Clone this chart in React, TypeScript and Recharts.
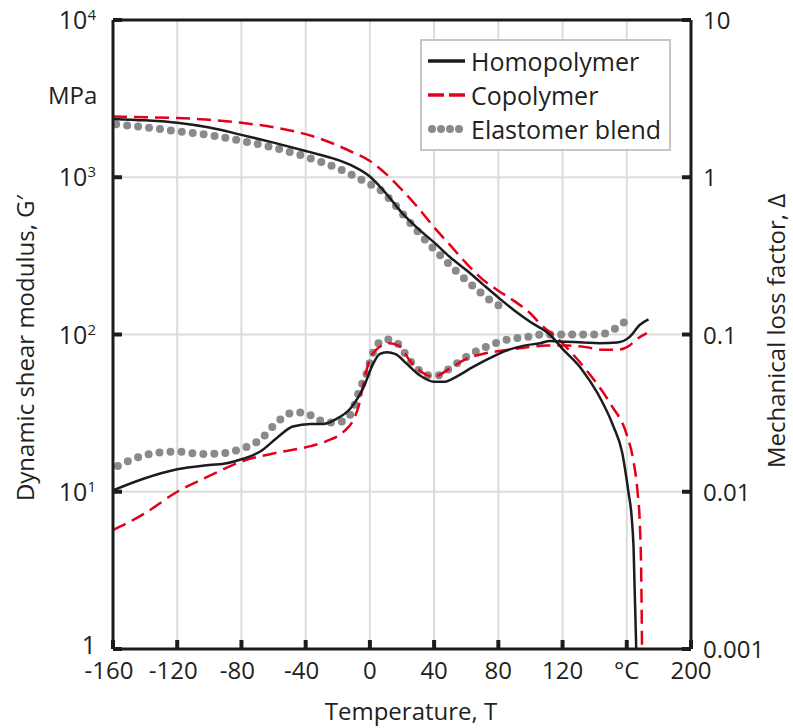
import React from "react"
import { LineChart, Line, XAxis, YAxis, CartesianGrid, ReferenceLine, Legend } from "recharts"

const FONT = "'Open Sans', 'Noto Sans', sans-serif"
const INK = "#1c1c1c"
const TEXT = "#231f20"
const RED = "#e2001a"
const GREY = "#8a8a8a"

const tempTicks = [-160, -120, -80, -40, 0, 40, 80, 120, 160, 200]
const modulusTicks = [1, 10, 100, 1000, 10000]
const lossTicks = [0.001, 0.01, 0.1, 1, 10]

// dynamic shear modulus G' [T °C, MPa]
const homoModulus = [
  [-160, 2350], [-140, 2300], [-120, 2220], [-100, 2070], [-80, 1860], [-60, 1660],
  [-40, 1470], [-30, 1380], [-20, 1290], [-10, 1170], [0, 1010], [5, 900], [10, 790],
  [20, 594], [30, 471], [40, 385], [50, 310], [60, 257], [70, 210], [80, 172],
  [90, 142], [100, 120], [112, 100], [120, 81], [132, 60], [142, 42], [151.7, 26],
  [157, 18], [161, 10], [163, 7], [164.2, 4.5], [165.9, 1],
]
const copoModulus = [
  [-160, 2430], [-140, 2410], [-120, 2380], [-100, 2320], [-80, 2220], [-60, 2080],
  [-40, 1880], [-20, 1590], [-10, 1430], [0, 1270], [10, 1050], [20, 830], [30, 640],
  [40, 480], [50, 370], [60, 284], [70, 225], [80, 190], [90, 163], [100, 136],
  [106, 117], [117, 94], [135, 59], [150, 36], [160, 23], [164, 16], [166.7, 10],
  [168.2, 6], [169, 3], [169.5, 1],
]
const blendModulus = [
  [-158, 2170], [-142, 2090], [-120, 1960], [-98, 1840], [-77, 1680], [-62, 1560],
  [-41, 1360], [-20, 1140], [-1, 915], [6, 835], [16, 660], [25, 515], [35, 394],
  [45, 310], [55, 246], [65, 200], [76, 162], [83, 148],
]

// mechanical loss factor [T °C, -]
const homoLoss = [
  [-160, 0.0102], [-141, 0.0121], [-120, 0.0139], [-100, 0.0148], [-89, 0.0152],
  [-79, 0.0162], [-68, 0.0181], [-58, 0.022], [-48, 0.026], [-37, 0.027], [-29, 0.027],
  [-21, 0.029], [-12, 0.034], [-4, 0.046], [2, 0.065], [6, 0.075], [10.5, 0.077],
  [16, 0.075], [23, 0.065], [31, 0.055], [40, 0.05], [46, 0.05], [54, 0.054],
  [64, 0.062], [75, 0.071], [85, 0.079], [96, 0.085], [106, 0.088], [112, 0.091],
  [122, 0.09], [133, 0.089], [143, 0.088], [154, 0.089], [162, 0.097], [168, 0.115],
  [173.5, 0.125],
]
const copoLoss = [
  [-160, 0.0057], [-141, 0.0072], [-120, 0.01], [-100, 0.0126], [-79, 0.0157],
  [-58, 0.0177], [-37, 0.0195], [-27, 0.021], [-16.5, 0.024], [-10, 0.029], [-7, 0.035],
  [-4, 0.049], [-1, 0.065], [4, 0.08], [12, 0.088], [18, 0.085], [25, 0.068],
  [30, 0.06], [36, 0.055], [40, 0.054], [49, 0.06], [60, 0.07], [72, 0.076],
  [83, 0.079], [98, 0.083], [110, 0.085], [123, 0.085], [135, 0.083], [145, 0.08],
  [154, 0.08], [161, 0.084], [166, 0.093], [172.5, 0.102],
]
const blendLoss = [
  [-157, 0.0146], [-144, 0.0166], [-133, 0.0177], [-120, 0.018], [-106, 0.0174],
  [-93, 0.0175], [-86, 0.018], [-80, 0.0188], [-73, 0.02], [-67, 0.022], [-63, 0.0244],
  [-58, 0.0275], [-53.5, 0.03], [-47, 0.032], [-40, 0.0318], [-34, 0.0293],
  [-27, 0.0277], [-21, 0.0275], [-14, 0.0295], [-10, 0.0345], [-8, 0.04], [-5, 0.048],
  [-2.4, 0.055], [-0.3, 0.065], [1.8, 0.076], [4.3, 0.086], [10.5, 0.093], [17, 0.088],
  [21, 0.078], [25, 0.068], [30, 0.06], [36, 0.055], [43, 0.055], [49, 0.06],
  [60, 0.072], [73, 0.084], [86, 0.093], [99, 0.097], [107, 0.1], [129, 0.1],
  [143, 0.1], [150, 0.105], [156, 0.115], [162, 0.128],
]

const toPoints = (arr: number[][]) => arr.map(([t, v]) => ({ t, v }))

function TempTick(props: any) {
  const { x, y, payload } = props
  const v = payload.value
  const label = v === 160 ? "°C" : String(v)
  return (
    <g>
      <line x1={x} x2={x} y1={y} y2={y - 9} stroke={INK} strokeWidth={4} />
      <text x={v < 0 ? x - 4 : x} y={y + 30} textAnchor="middle" fontSize={24} fill={TEXT} fontFamily={FONT}>
        {label}
      </text>
    </g>
  )
}

function ModulusTick(props: any) {
  const { x, y, payload } = props
  const exp = Math.round(Math.log10(payload.value))
  return (
    <g>
      <line x1={x} x2={x + 9} y1={y} y2={y} stroke={INK} strokeWidth={4} />
      <text x={x - 17} y={exp === 0 ? y + 5 : y + 9} textAnchor="end" fontSize={25} fill={TEXT} fontFamily={FONT}>
        {exp === 0 ? "1" : (
          <>
            10<tspan fontSize={15} dy={-9}>{exp}</tspan>
          </>
        )}
      </text>
    </g>
  )
}

function LossTick(props: any) {
  const { x, y, payload } = props
  return (
    <g>
      <line x1={x} x2={x - 9} y1={y} y2={y} stroke={INK} strokeWidth={4} />
      <text x={x + 12} y={y + 9} textAnchor="start" fontSize={24} fill={TEXT} fontFamily={FONT}>
        {String(payload.value)}
      </text>
    </g>
  )
}

function LegendBox() {
  const row = { display: "flex", alignItems: "center", height: 34 }
  const txt = { fontSize: 25, color: TEXT, fontFamily: FONT, lineHeight: "34px", marginLeft: 6 }
  return (
    <div style={{ boxSizing: "border-box", width: 251, height: 112, border: "2px solid #c6c6c6", background: "#fff", padding: "3px 0 0 6px" }}>
      <div style={row}>
        <svg width={37} height={20}><line x1={0} x2={37} y1={10} y2={10} stroke={INK} strokeWidth={3.5} /></svg>
        <span style={txt}>Homopolymer</span>
      </div>
      <div style={row}>
        <svg width={37} height={20}><line x1={0} x2={37} y1={10} y2={10} stroke={RED} strokeWidth={3.5} strokeDasharray="16 5" /></svg>
        <span style={txt}>Copolymer</span>
      </div>
      <div style={row}>
        <svg width={37} height={20}>
          {[4, 13, 22, 31].map((cx) => <circle key={cx} cx={cx} cy={10} r={4} fill={GREY} />)}
        </svg>
        <span style={txt}>Elastomer blend</span>
      </div>
    </div>
  )
}

export default function App() {
  const solid = { stroke: INK, strokeWidth: 2.5 }
  const dashed = { stroke: RED, strokeWidth: 2.5, strokeDasharray: "14 7" }
  const dotted = { stroke: GREY, strokeWidth: 8, strokeDasharray: "0 11", strokeLinecap: "round" as const }

  return (
    <div style={{ position: "absolute", left: 0, top: 0, width: 793, height: 728, background: "#fff", fontFamily: FONT, color: TEXT }}>
      <LineChart width={793} height={728} margin={{ top: 20, right: 22, bottom: 39, left: 53 }}>
        <CartesianGrid stroke="#dcdcdc" strokeWidth={2} />
        <XAxis dataKey="t" type="number" domain={[-160, 200]} ticks={tempTicks} allowDataOverflow height={40}
          axisLine={{ stroke: INK, strokeWidth: 3 }} tickLine={false} tickSize={0} tickMargin={0} interval={0}
          tick={(p: any) => <TempTick {...p} />} />
        <YAxis type="number" scale="log" domain={[1, 10000]} ticks={modulusTicks} allowDataOverflow width={60}
          axisLine={{ stroke: INK, strokeWidth: 3 }} tickLine={false} tickSize={0} tickMargin={0} interval={0}
          tick={(p: any) => <ModulusTick {...p} />} />
        <YAxis yAxisId="loss" orientation="right" type="number" scale="log" domain={[0.001, 10]} ticks={lossTicks}
          allowDataOverflow width={80} axisLine={{ stroke: INK, strokeWidth: 3 }} tickLine={false} tickSize={0}
          tickMargin={0} interval={0} tick={(p: any) => <LossTick {...p} />} />

        <Line data={toPoints(blendModulus)} dataKey="v" type="monotone" {...dotted} dot={false} activeDot={false} isAnimationActive={false} />
        <Line data={toPoints(blendLoss)} dataKey="v" yAxisId="loss" type="monotone" {...dotted} dot={false} activeDot={false} isAnimationActive={false} />
        <Line data={toPoints(copoModulus)} dataKey="v" type="monotone" {...dashed} dot={false} activeDot={false} isAnimationActive={false} />
        <Line data={toPoints(copoLoss)} dataKey="v" yAxisId="loss" type="monotone" {...dashed} dot={false} activeDot={false} isAnimationActive={false} />
        <Line data={toPoints(homoModulus)} dataKey="v" type="monotone" {...solid} dot={false} activeDot={false} isAnimationActive={false} />
        <Line data={toPoints(homoLoss)} dataKey="v" yAxisId="loss" type="monotone" {...solid} dot={false} activeDot={false} isAnimationActive={false} />

        <ReferenceLine y={10000} stroke={INK} strokeWidth={3} />
        <Legend layout="horizontal" verticalAlign="middle" align="center" content={() => <LegendBox />}
          wrapperStyle={{ left: 420, top: 39, width: 251, height: 112 }} />
      </LineChart>

      <div style={{ position: "absolute", left: 48, top: 80, fontSize: 24, lineHeight: "30px" }}>MPa</div>
      <div style={{ position: "absolute", left: 261, top: 699, width: 300, textAlign: "center", fontSize: 24, lineHeight: "24px" }}>
        Temperature, T
      </div>
      <div style={{ position: "absolute", left: 25 - 200, top: 348 - 15, width: 400, height: 30, lineHeight: "30px", textAlign: "center", fontSize: 24, transform: "rotate(-90deg)" }}>
        Dynamic shear modulus, G′
      </div>
      <div style={{ position: "absolute", left: 776 - 200, top: 331 - 15, width: 400, height: 30, lineHeight: "30px", textAlign: "center", fontSize: 24, transform: "rotate(-90deg)" }}>
        Mechanical loss factor, Δ
      </div>
    </div>
  )
}
